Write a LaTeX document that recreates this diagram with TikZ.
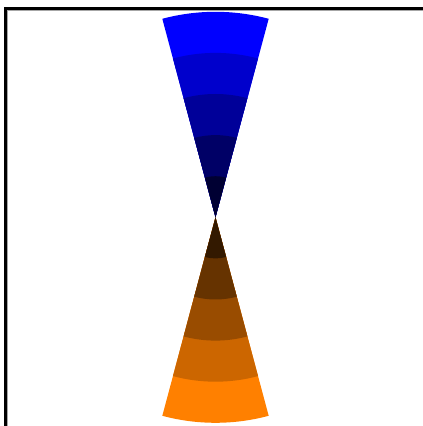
\documentclass[tikz,border=0pt]{standalone}
\begin{document}
\begin{tikzpicture}[x=1pt,y=1pt]
\useasboundingbox (0,0) rectangle (423,426);
\coordinate (C) at (215.5,208.7);
\def\R{205.5}
\foreach \k in {5,4,3,2,1}{
  \pgfmathsetmacro{\r}{\R*\k/5}
  \pgfmathtruncatemacro{\p}{\k*20}
  \fill[blue!\p!black] (C) -- ++(75:\r) arc[start angle=75,end angle=105,radius=\r] -- cycle;
  \fill[orange!\p!black] (C) -- ++(255:\r) arc[start angle=255,end angle=285,radius=\r] -- cycle;
}
% frame (cropped)
\draw[gray!70,line width=1.2] (7,-5) -- (7,415.2) -- (430,415.2);
\draw[black,line width=3] (5.3,-5) -- (5.3,417.5) -- (430,417.5);
\end{tikzpicture}
\end{document}
